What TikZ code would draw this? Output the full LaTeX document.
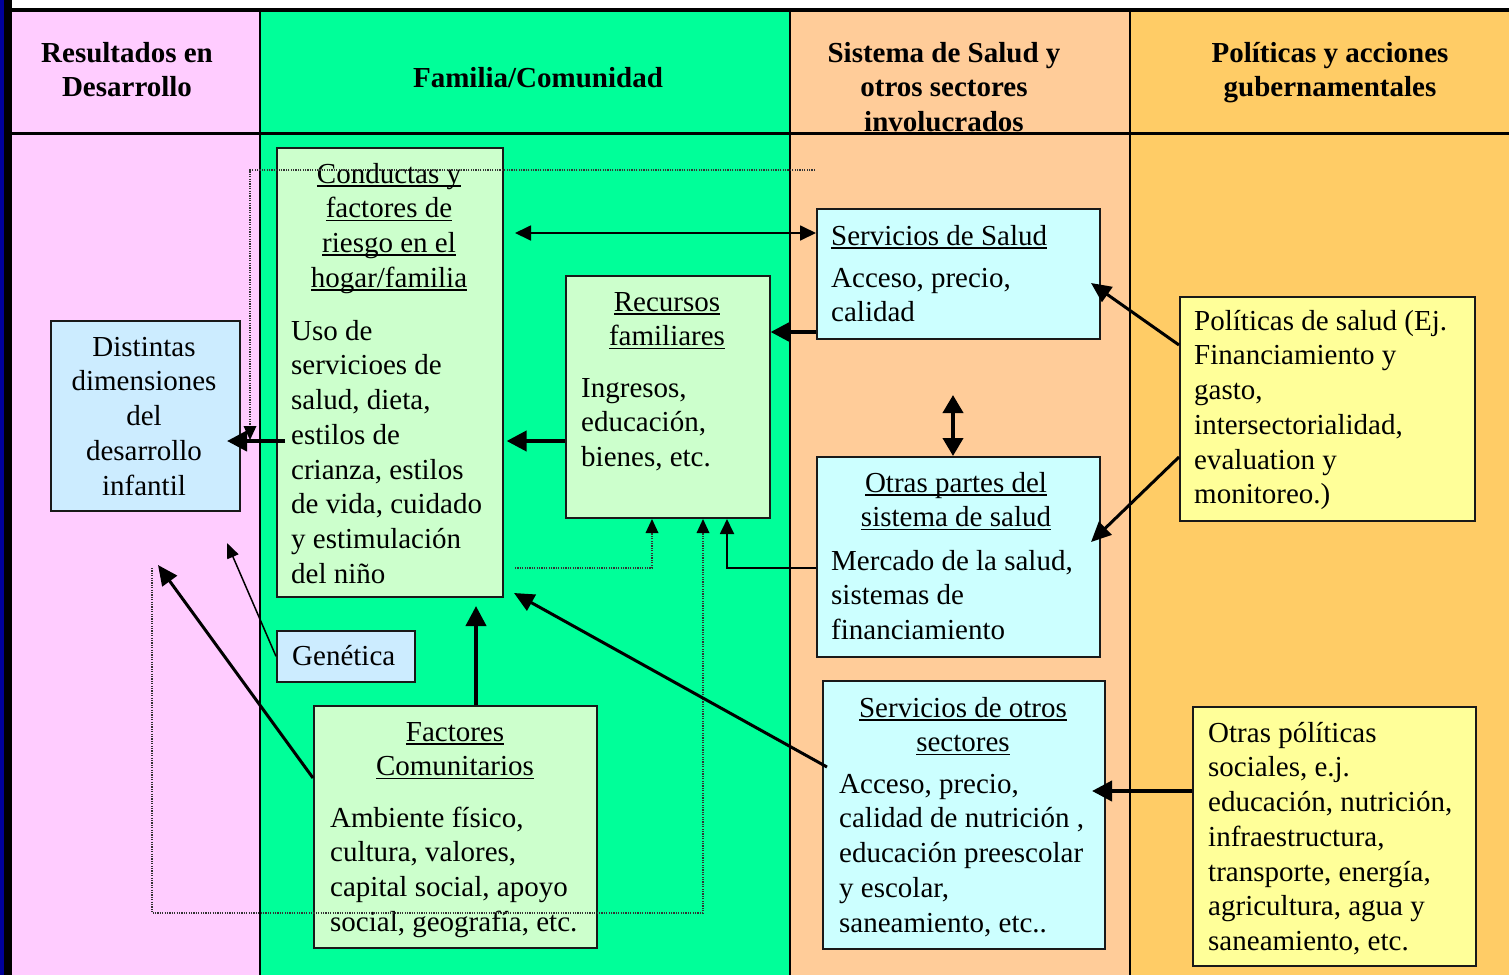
\documentclass[tikz,border=0pt]{standalone}
\usepackage{fontspec}
\setmainfont{Liberation Serif}
\usetikzlibrary{arrows.meta,calc}
\definecolor{cpink}{HTML}{FFCCFF}
\definecolor{cgreen}{HTML}{00FF99}
\definecolor{cpeach}{HTML}{FFCC99}
\definecolor{corange}{HTML}{FFCC66}
\definecolor{cbox}{HTML}{CCFFCC}
\definecolor{ccyan}{HTML}{CCFFFF}
\definecolor{cblue}{HTML}{CCECFF}
\definecolor{cyel}{HTML}{FFFF99}
\definecolor{cstripe}{HTML}{000099}
\definecolor{cdot}{HTML}{333333}
\newsavebox\ulbx
\newcommand\ulx[1]{\sbox\ulbx{#1}\rlap{\rule[-3.5pt]{\wd\ulbx}{1.8pt}}\usebox\ulbx}
\begin{document}
\begin{tikzpicture}[x=1pt,y=-1pt,
  boxst/.style={draw=black!90, line width=1.6pt, inner sep=0pt, anchor=north west},
  bodyst/.style={inner sep=0pt, anchor=north west, align=left, font={\fontsize{29}{34.7}\selectfont}},
  titlest/.style={inner sep=0pt, anchor=north, align=center, font={\fontsize{29}{34.7}\selectfont}},
  headst/.style={inner sep=0pt, anchor=north, align=center, font={\fontsize{29}{34.7}\selectfont\bfseries}},
  arrbig/.style={line width=4pt, -{Triangle[length=20pt,width=20pt]}},
  arrmed/.style={line width=3pt, -{Triangle[length=20pt,width=18pt]}},
  arrdot/.style={line width=1.2pt, draw=cdot, dash pattern=on 1.2pt off 1.2pt, -{Triangle[length=14pt,width=13pt,color=black,line width=0pt]}},
  divline/.style={line width=1.8pt, draw=black}
]
\useasboundingbox (0,0) rectangle (1509,975);
% backgrounds
\fill[white] (0,0) rectangle (1509,975);
\fill[cpink] (12,10) rectangle (260,975);
\fill[cgreen] (260,10) rectangle (790,975);
\fill[cpeach] (790,10) rectangle (1130,975);
\fill[corange] (1130,10) rectangle (1509,975);
\fill[cstripe] (0,0) rectangle (4,975);
\fill[black] (4,0) rectangle (12,975);
\draw[divline] (260,10) -- (260,975);
\draw[divline] (790,10) -- (790,975);
\draw[divline] (1130,10) -- (1130,975);
\draw[line width=3.5pt] (12,10) -- (1509,10);
\draw[line width=3.2pt] (12,133.5) -- (1509,133.5);
% headers
\node[headst] (h1) at (127,37.7) {\strut Resultados en\\Desarrollo};
\node[headst] (h2) at (538,62.7) {\strut Familia/Comunidad};
\node[headst] (h3) at (944,37.7) {\strut Sistema de Salud y\\otros sectores\\involucrados};
\node[headst] (h4) at (1330,37.7) {\strut Políticas y acciones\\gubernamentales};
% boxes
\node[boxst, fill=cblue, minimum width=189pt, minimum height=190pt] (dist) at (50,320) {};
\node[boxst, fill=cbox, minimum width=226pt, minimum height=449pt] (cond) at (276,147) {};
\node[boxst, fill=cbox, minimum width=204pt, minimum height=242pt] (rec) at (565,275) {};
\node[boxst, fill=cblue, minimum width=138pt, minimum height=51pt] (gen) at (276,630) {};
\node[boxst, fill=cbox, minimum width=283pt, minimum height=242pt] (fac) at (313,705) {};
\node[boxst, fill=ccyan, minimum width=283pt, minimum height=130pt] (srvs) at (816,208) {};
\node[boxst, fill=ccyan, minimum width=283pt, minimum height=200pt] (otra) at (816,456) {};
\node[boxst, fill=ccyan, minimum width=282pt, minimum height=268pt] (sotr) at (822,680) {};
\node[boxst, fill=cyel, minimum width=295pt, minimum height=224pt] (pols) at (1179,296) {};
\node[boxst, fill=cyel, minimum width=283pt, minimum height=259pt] (polo) at (1192,706) {};
% texts
\node[titlest] (tdist) at (144,331.7) {\strut Distintas\\dimensiones\\del\\desarrollo\\infantil};
\node[titlest] (tcond) at (389,158.7) {\strut\ulx{Conductas y}\\\ulx{factores de}\\\ulx{riesgo en el}\\\ulx{hogar/familia}};
\node[bodyst] (bcond) at (291,315.7) {\strut Uso de\\servicioes de\\salud, dieta,\\estilos de\\crianza, estilos\\de vida, cuidado\\y estimulación\\del niño};
\node[titlest] (trec) at (667,286.7) {\strut\ulx{Recursos}\\\ulx{familiares}};
\node[bodyst] (brec) at (581,372.7) {\strut Ingresos,\\educación,\\bienes, etc.};
\node[bodyst] (tgen) at (292,640.7) {\strut Genética};
\node[titlest] (tfac) at (455,716.7) {\strut\ulx{Factores}\\\ulx{Comunitarios}};
\node[bodyst] (bfac) at (330,802.7) {\strut Ambiente físico,\\cultura, valores,\\capital social, apoyo\\social, geografía, etc.};
\node[bodyst] (tsrvs) at (831,220.7) {\strut\ulx{Servicios de Salud}};
\node[bodyst] (bsrvs) at (831,262.7) {\strut Acceso, precio,\\calidad};
\node[titlest] (totra) at (956,467.7) {\strut\ulx{Otras partes del}\\\ulx{sistema de salud}};
\node[bodyst] (botra) at (831,545.7) {\strut Mercado de la salud,\\sistemas de\\financiamiento};
\node[titlest] (tsotr) at (963,692.7) {\strut\ulx{Servicios de otros}\\\ulx{sectores}};
\node[bodyst] (bsotr) at (839,768.7) {\strut Acceso, precio,\\calidad de nutrición ,\\educación preescolar\\y escolar,\\saneamiento, etc..};
\node[bodyst] (bpols) at (1194,305.7) {\strut Políticas de salud (Ej.\\Financiamiento y\\gasto,\\intersectorialidad,\\evaluation y\\monitoreo.)};
\node[bodyst] (bpolo) at (1208,717.7) {\strut Otras pólíticas\\sociales, e.j.\\educación, nutrición,\\infraestructura,\\transporte, energía,\\agricultura, agua y\\saneamiento, etc.};
% free coordinates
\coordinate (d1a) at (815,170);
\coordinate (d1b) at (250,170);
\coordinate (d1c) at (250,440);
\coordinate (d2a) at (152,568);
\coordinate (d2b) at (152,913);
\coordinate (d2c) at (703,913);
\coordinate (d2d) at (703,519);
\coordinate (d3a) at (515,568);
\coordinate (d3b) at (652,568);
\coordinate (d3c) at (652,519);
\coordinate (s1b) at (727,568);
\coordinate (s1c) at (727,519);
\coordinate (hd1) at (515,233);
\coordinate (ca) at (285,441);
\coordinate (dtip) at (227,441);
\coordinate (gtip) at (227,543);
\coordinate (ftip) at (158,565);
\coordinate (ctip) at (514,593);
\coordinate (ssrc) at (827,767);
\coordinate (vt) at (953,395);
\coordinate (vb) at (953,456);
\coordinate (p1tip) at (1091,283);
\coordinate (p2tip) at (1091,542);
% dotted connectors
\draw[arrdot] (d1a) -- (d1b) -- (d1c);
\draw[arrdot] (d2a) -- (d2b) -- (d2c) -- (d2d);
\draw[arrdot] (d3a) -- (d3b) -- (d3c);
% solid connectors
\draw[line width=1.8pt, -{Triangle[length=15pt,width=14pt]}] (otra.west |- s1b) -- (s1b) -- (s1c);
\draw[line width=1.8pt, {Triangle[length=16pt,width=15pt]}-{Triangle[length=16pt,width=15pt]}] (hd1) -- (srvs.west |- hd1);
\draw[arrbig] (srvs.west |- 0,332) -- (rec.east |- 0,332);
\draw[arrbig] (rec.west |- 0,441) -- ([xshift=3pt]cond.east |- 0,441);
\draw[arrbig] (ca) -- (dtip);
\draw[line width=1.5pt, -{Triangle[length=15pt,width=12pt]}] (gen.west) -- (gtip);
\draw[arrmed] (fac.west |- 0,778) -- (ftip);
\draw[arrbig] (476,705) -- (476,606);
\draw[arrmed] (ssrc) -- (ctip);
\draw[line width=4pt, {Triangle[length=18pt,width=20pt]}-{Triangle[length=18pt,width=20pt]}] (vt) -- (vb);
\draw[arrmed] (pols.west |- 0,345) -- (p1tip);
\draw[arrmed] (pols.west |- 0,457) -- (p2tip);
\draw[arrbig] (polo.west |- 0,791) -- (1092,791);
\end{tikzpicture}
\end{document}
